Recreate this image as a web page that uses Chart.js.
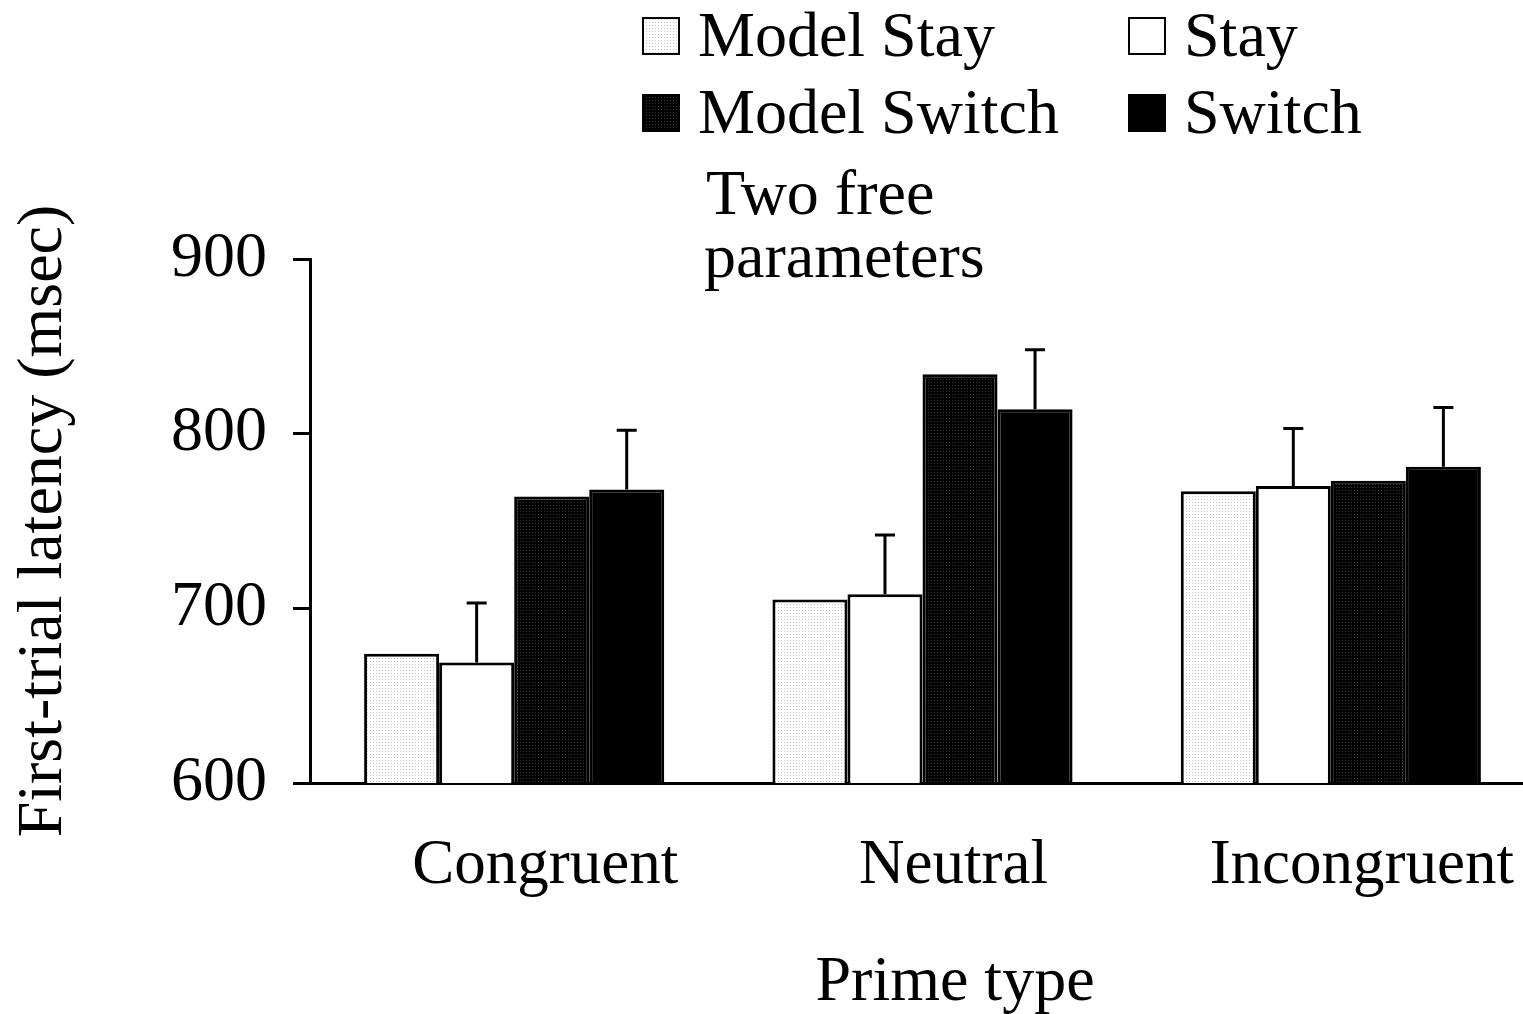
<!DOCTYPE html>
<html>
<head>
<meta charset="utf-8">
<script src="https://cdn.jsdelivr.net/npm/chart.js@4/dist/chart.umd.min.js"></script>
<style>
  html, body { margin: 0; padding: 0; background: #fff; overflow: hidden; }
  canvas { display: block; }
</style>
</head>
<body>
<canvas id="graph" width="1535" height="1014"></canvas>
<script>
const categories = ['Congruent', 'Neutral', 'Incongruent']
const modelStay = [674, 705, 767]
const stay = [669, 708, 770]
const modelSwitch = [764, 834, 773]
const switchVals = [768, 814, 781]
const stayErr = [34, 34, 33]
const switchErr = [34, 34, 34]
const yTicks = [600, 700, 800, 900]

const FONT = '"Liberation Serif", "Times New Roman", serif'

function dots(bg, dot) {
  const c = document.createElement('canvas')
  c.width = 3
  c.height = 3
  const g = c.getContext('2d')
  g.fillStyle = bg
  g.fillRect(0, 0, 3, 3)
  g.fillStyle = dot
  g.fillRect(1, 1, 1, 1)
  return g.createPattern(c, 'repeat')
}

const lightDots = dots('#ffffff', '#c4c4c4')
const darkDots = dots('#000000', '#3a3a3a')

const legendItems = [
  { label: 'Model Stay', fill: lightDots, x: 642, y: 17 },
  { label: 'Stay', fill: '#ffffff', x: 1128, y: 17 },
  { label: 'Model Switch', fill: darkDots, x: 642, y: 94 },
  { label: 'Switch', fill: '#000000', x: 1128, y: 94 }
]

const extras = {
  id: 'extras',
  afterDatasetsDraw(chart) {
    const { ctx, scales: { y } } = chart
    ctx.save()
    ctx.strokeStyle = '#000'
    ctx.lineWidth = 3
    ;[[1, stay, stayErr], [3, switchVals, switchErr]].forEach(([di, vals, errs]) => {
      chart.getDatasetMeta(di).data.forEach((bar, i) => {
        const top = y.getPixelForValue(vals[i])
        const end = y.getPixelForValue(vals[i] + errs[i])
        ctx.beginPath()
        ctx.moveTo(bar.x, top)
        ctx.lineTo(bar.x, end)
        ctx.moveTo(bar.x - 10, end)
        ctx.lineTo(bar.x + 10, end)
        ctx.stroke()
      })
    })
    ctx.restore()
  },
  afterDraw(chart) {
    const { ctx } = chart
    ctx.save()
    ctx.font = '64px ' + FONT
    ctx.fillStyle = '#000'
    ctx.textBaseline = 'alphabetic'
    legendItems.forEach(it => {
      ctx.fillStyle = it.fill
      ctx.fillRect(it.x, it.y, 38, 38)
      ctx.strokeStyle = '#000'
      ctx.lineWidth = 2
      ctx.strokeRect(it.x + 1, it.y + 1, 36, 36)
      ctx.fillStyle = '#000'
      ctx.fillText(it.label, it.x + 56, it.y + 39)
    })
    ctx.fillText('Two free', 706, 214)
    ctx.fillText('parameters', 704, 277)
    ctx.textAlign = 'center'
    ctx.fillText('Prime type', 955, 1000)
    ctx.restore()
  }
}

new Chart(document.getElementById('graph'), {
  type: 'bar',
  plugins: [extras],
  data: {
    labels: categories,
    datasets: [
      { label: 'Model Stay', data: modelStay, backgroundColor: lightDots },
      { label: 'Stay', data: stay, backgroundColor: '#ffffff' },
      { label: 'Model Switch', data: modelSwitch, backgroundColor: darkDots },
      { label: 'Switch', data: switchVals, backgroundColor: '#000000' }
    ]
  },
  options: {
    responsive: false,
    animation: false,
    layout: { padding: { top: 259, right: 0, left: 0, bottom: 0 } },
    datasets: {
      bar: {
        borderColor: '#000',
        borderWidth: 3,
        borderSkipped: 'bottom',
        barPercentage: 1,
        categoryPercentage: 0.735
      }
    },
    plugins: {
      legend: { display: false },
      tooltip: { enabled: false }
    },
    scales: {
      x: {
        afterFit(scale) { scale.height = 231 },
        grid: { display: false },
        border: { color: '#000', width: 3 },
        ticks: { color: '#000', font: { family: FONT, size: 63 }, padding: 38, labelOffset: 31 }
      },
      y: {
        min: 600,
        max: 900,
        afterFit(scale) { scale.width = 310 },
        afterBuildTicks(scale) { scale.ticks = yTicks.map(v => ({ value: v })) },
        grid: { drawOnChartArea: false, tickLength: 17, color: '#000', lineWidth: 3 },
        border: { color: '#000', width: 3 },
        ticks: { color: '#000', font: { family: FONT, size: 64 }, padding: 26 },
        title: {
          display: true,
          text: 'First-trial latency (msec)',
          color: '#000',
          font: { family: FONT, size: 64 },
          padding: { top: 6, bottom: 0 }
        }
      }
    }
  }
})
</script>
</body>
</html>
